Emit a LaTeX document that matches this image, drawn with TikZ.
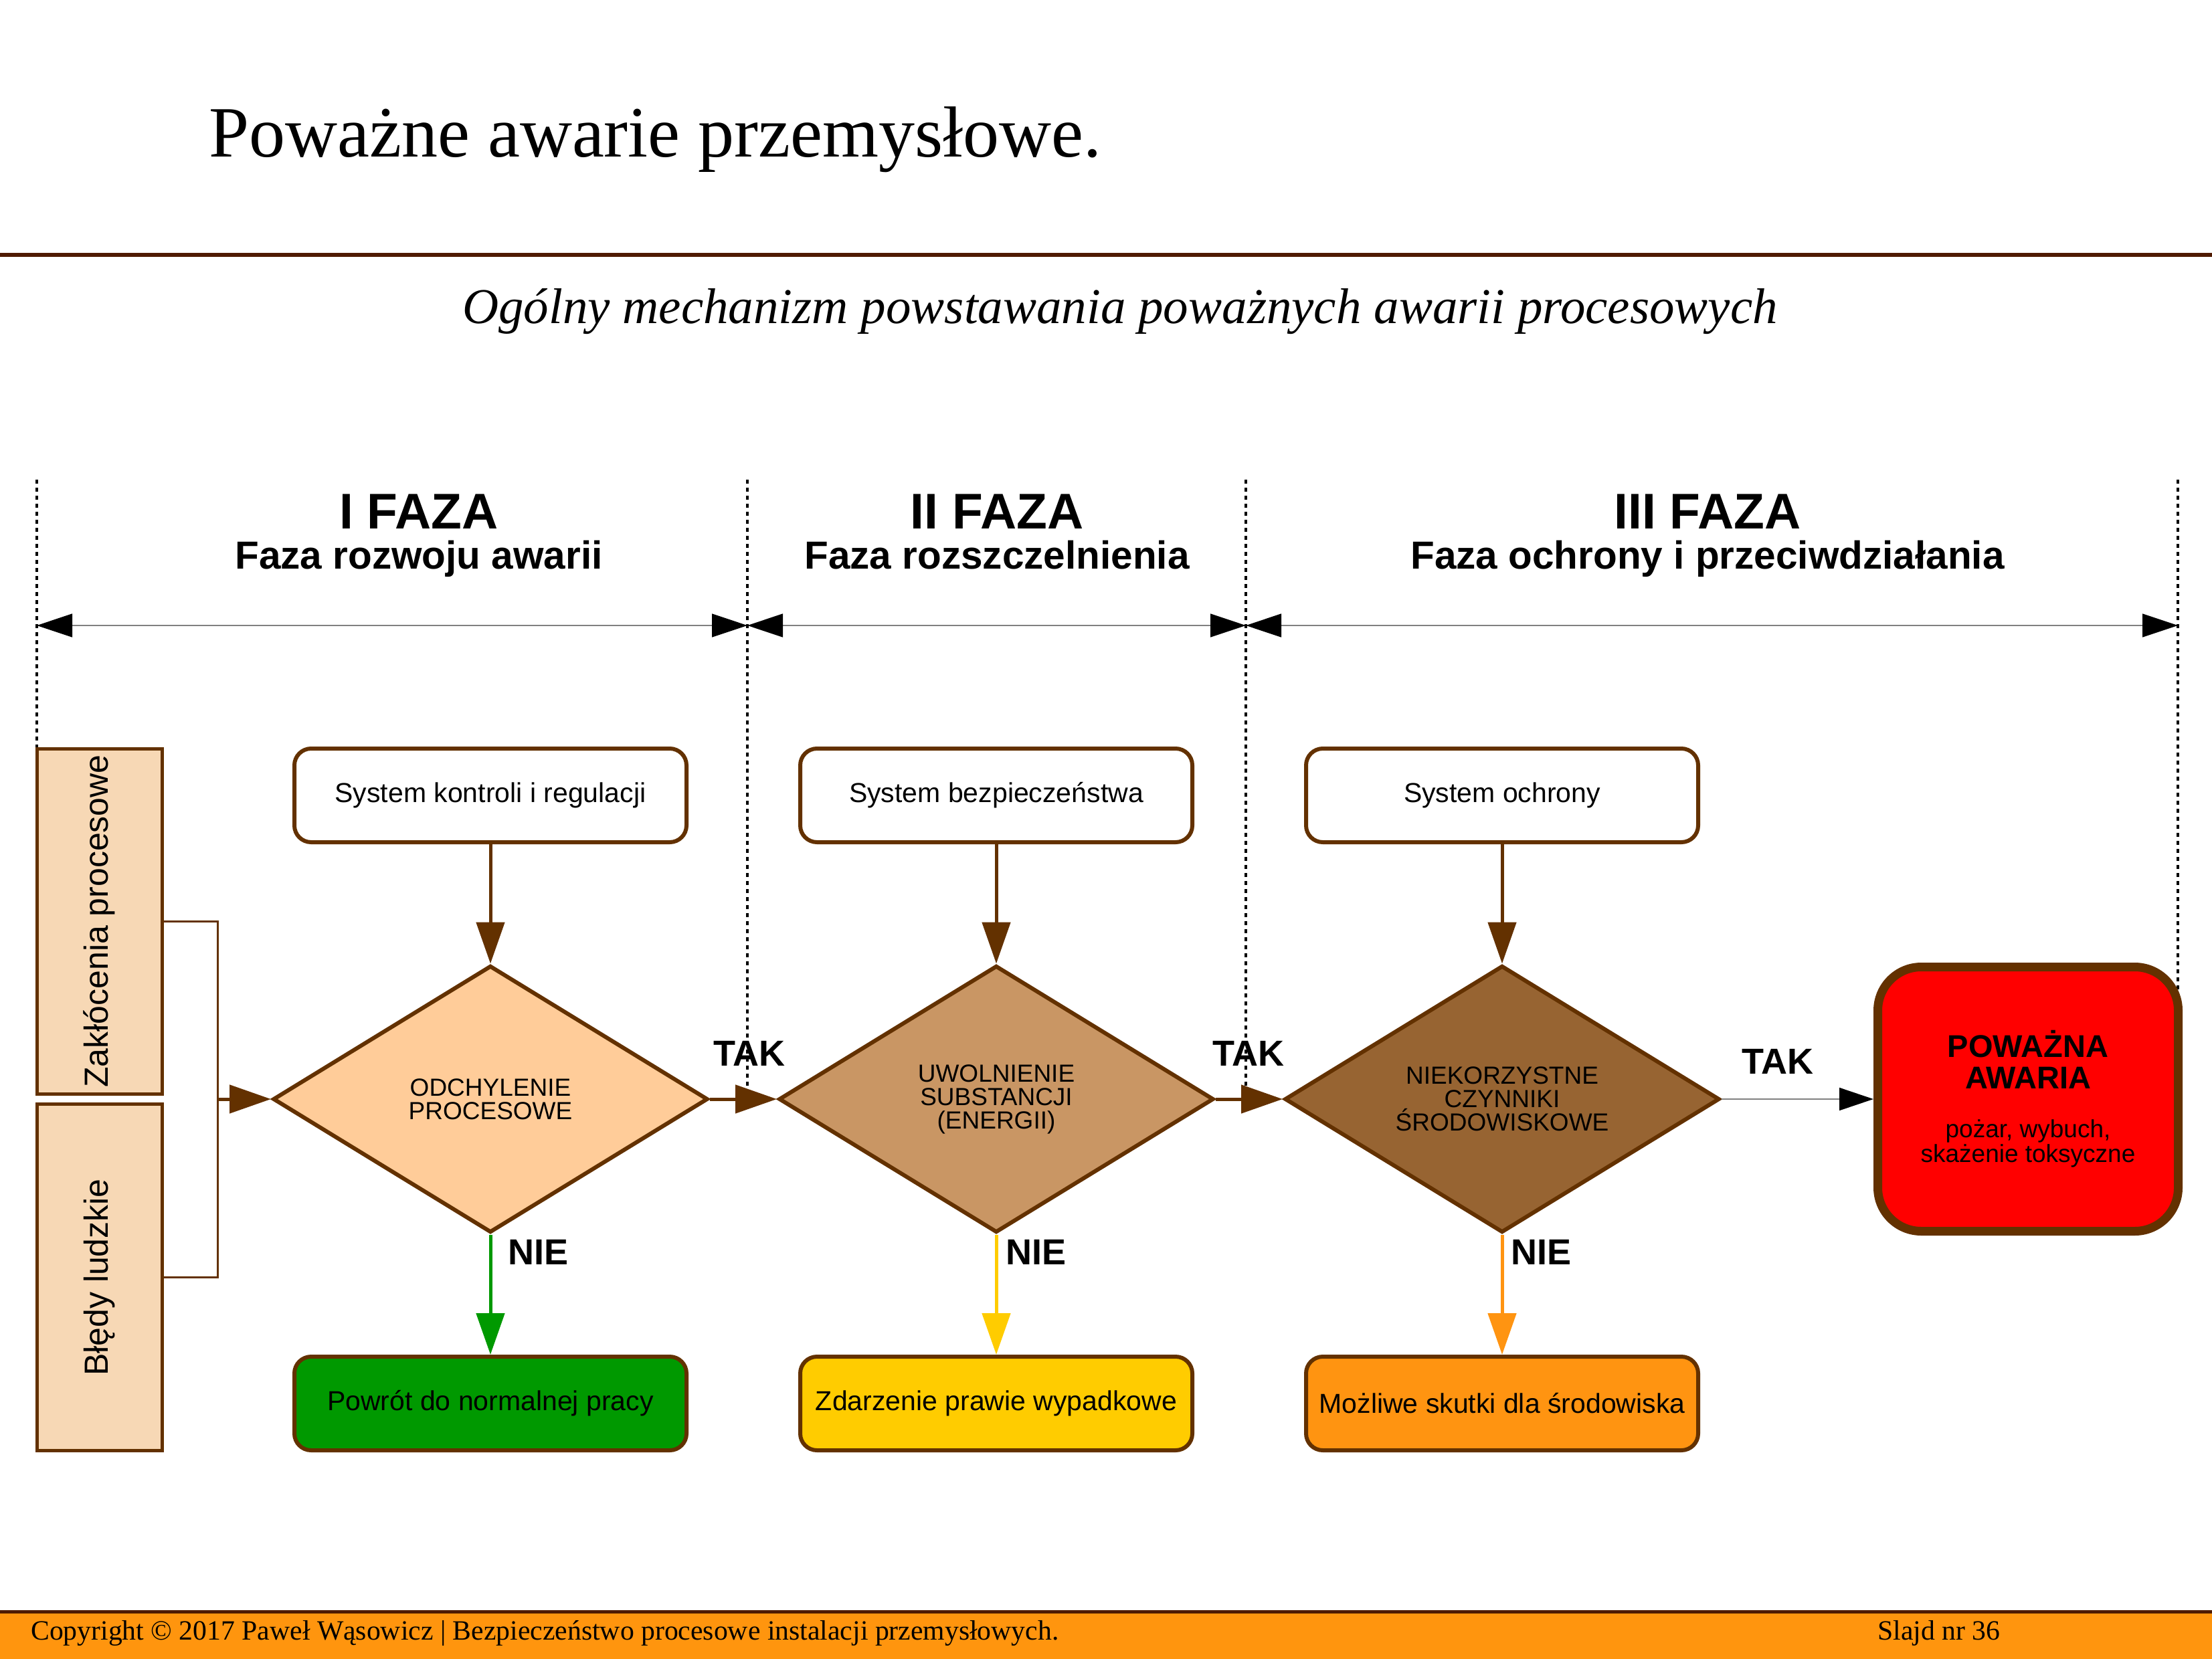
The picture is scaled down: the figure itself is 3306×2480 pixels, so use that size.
\documentclass[tikz,border=0pt]{standalone}
\usepackage{fontspec}
\setmainfont{Liberation Serif}
\setsansfont{Liberation Sans}
\usetikzlibrary{arrows.meta,shapes.geometric}
\definecolor{brn}{HTML}{633100}
\definecolor{rulec}{HTML}{4F1B00}
\definecolor{peach}{HTML}{F7D8B5}
\definecolor{dfa}{HTML}{FFCC99}
\definecolor{dfb}{HTML}{C99664}
\definecolor{dfc}{HTML}{976432}
\definecolor{grn}{HTML}{009900}
\definecolor{ylw}{HTML}{FFCC00}
\definecolor{org}{HTML}{FF9411}
\definecolor{footc}{HTML}{FF950E}
\begin{document}
\begin{tikzpicture}[x=1pt,y=-1pt,
  sysbox/.style={draw=brn, line width=6pt, rounded corners=25pt, minimum width=586pt, minimum height=140pt, inner sep=0pt, font=\sffamily\fontsize{41}{41}\selectfont},
  sidebox/.style={draw=brn, fill=peach, line width=5pt, rotate=90, minimum width=516pt, minimum height=187pt, inner sep=0pt, font=\sffamily\fontsize{50}{50}\selectfont},
  dec/.style={diamond, aspect=1.626, draw=brn, line width=6pt, minimum width=650pt, minimum height=399pt, inner sep=0pt, align=center, font=\sffamily\fontsize{37}{35}\selectfont},
  arr/.style={draw=brn, line width=5pt, -{Triangle[length=62pt,width=42pt]}},
  phase/.style={draw=black!50, line width=1.5pt, {Triangle[length=53pt,width=35pt,color=black]}-{Triangle[length=53pt,width=35pt,color=black]}},
  divider/.style={black, line width=4pt, dash pattern=on 6pt off 6pt},
  lbl/.style={font=\sffamily\bfseries\fontsize{54}{54}\selectfont, inner sep=0pt},
  fhead/.style={anchor=base, inner sep=0pt, font=\sffamily\bfseries\fontsize{75}{75}\selectfont},
  fsub/.style={anchor=base, inner sep=0pt, font=\sffamily\bfseries\fontsize{58.5}{58.5}\selectfont}
]
\useasboundingbox (0,0) rectangle (3306,2480);

% title
\node[anchor=base west, inner sep=0pt, font=\fontsize{108}{108}\selectfont] (title) at (312,235) {Poważne awarie przemysłowe.};
\fill[rulec] (0,378) rectangle (3306,384);
\node[anchor=base, inner sep=0pt, font=\itshape\fontsize{75}{75}\selectfont] (subtitle) at (1674,483) {Ogólny mechanizm powstawania poważnych awarii procesowych};

% phase headers
\node[fhead] (h1) at (626,790) {I FAZA};
\node[fsub] (h1s) at (626,850) {Faza rozwoju awarii};
\node[fhead] (h2) at (1490,790) {II FAZA};
\node[fsub] (h2s) at (1490,850) {Faza rozszczelnienia};
\node[fhead] (h3) at (2552,790) {III FAZA};
\node[fsub] (h3s) at (2552,850) {Faza ochrony i przeciwdziałania};

% dividers
\draw[divider] (55,717) -- (55,1117);
\draw[divider] (1117,717) -- (1117,1637);
\draw[divider] (1862,717) -- (1862,1637);
\draw[divider] (3255,717) -- (3255,1481);

% phase arrows
\coordinate (p0) at (55,935);
\coordinate (p1) at (1117,935);
\coordinate (p2) at (1862,935);
\coordinate (p3) at (3255,935);
\draw[phase] (p0) -- (p1);
\draw[phase] (p1) -- (p2);
\draw[phase] (p2) -- (p3);

% side boxes
\node[sidebox] (z1) at (148.5,1377) {Zakłócenia procesowe};
\node[sidebox, minimum width=518pt] (z2) at (148.5,1909.5) {Błędy ludzkie};

% system boxes
\node[sysbox] (s1) at (733,1189) {System kontroli i regulacji};
\node[sysbox] (s2) at (1489,1189) {System bezpieczeństwa};
\node[sysbox] (s3) at (2245,1189) {System ochrony};

% decisions
\node[dec, fill=dfa] (d1) at (733,1643) {ODCHYLENIE\\PROCESOWE};
\node[dec, fill=dfb] (d2) at (1489,1643) {UWOLNIENIE\\SUBSTANCJI\\(ENERGII)};
\node[dec, fill=dfc] (d3) at (2245,1643) {NIEKORZYSTNE\\CZYNNIKI\\ŚRODOWISKOWE};

% result boxes
\node[sysbox, fill=grn] (r1) at (733,2098) {Powrót do normalnej pracy};
\node[sysbox, fill=ylw] (r2) at (1489,2098) {Zdarzenie prawie wypadkowe};
\node[sysbox, fill=org] (r3) at (2245,2098) {Możliwe skutki dla środowiska};

% major accident
\node[draw=brn, fill=red, line width=13pt, rounded corners=65pt, minimum width=449pt, minimum height=395pt, inner sep=0pt] (pa) at (3031,1643)
 {\vbox{\hsize=420pt\centering\sffamily
   \fontsize{47}{47}\selectfont\bfseries POWAŻNA\\AWARIA\par
   \vskip 36pt
   \fontsize{37}{37}\selectfont\mdseries pożar, wybuch,\\skażenie toksyczne\par}};

% bracket
\coordinate (jn) at (325,1643);
\draw[draw=brn, line width=3pt] (z1.south) -| (jn) |- (z2.south);
\draw[arr] (jn) -- (d1.west);

% arrows
\draw[arr] (s1.south) -- (d1.north);
\draw[arr] (s2.south) -- (d2.north);
\draw[arr] (s3.south) -- (d3.north);
\draw[arr] (d1.east) -- (d2.west);
\draw[arr] (d2.east) -- (d3.west);
\draw[draw=black!50, line width=1.5pt, -{Triangle[length=51pt,width=34pt,color=black]}] (d3.east) -- (pa.west);
\draw[arr, draw=grn] (d1.south) -- (r1.north);
\draw[arr, draw=ylw] (d2.south) -- (r2.north);
\draw[arr, draw=org] (d3.south) -- (r3.north);

% labels
\node[lbl, anchor=base] (tak1) at (1120,1593) {TAK};
\node[lbl, anchor=base] (tak2) at (1866,1593) {TAK};
\node[lbl, anchor=base] (tak3) at (2657,1605) {TAK};
\node[lbl, anchor=base west] (nie1) at (759,1890) {NIE};
\node[lbl, anchor=base west] (nie2) at (1503,1890) {NIE};
\node[lbl, anchor=base west] (nie3) at (2258,1890) {NIE};

% footer
\fill[rulec] (0,2407) rectangle (3306,2412);
\fill[footc] (0,2412) rectangle (3306,2480);
\node[anchor=base west, inner sep=0pt, font=\fontsize{41.7}{41.7}\selectfont] (foot) at (46,2451) {Copyright © 2017 Paweł Wąsowicz | Bezpieczeństwo procesowe instalacji przemysłowych.};
\node[anchor=base west, inner sep=0pt, font=\fontsize{41.7}{41.7}\selectfont] (slide) at (2806,2451) {Slajd nr 36};
\end{tikzpicture}
\end{document}
